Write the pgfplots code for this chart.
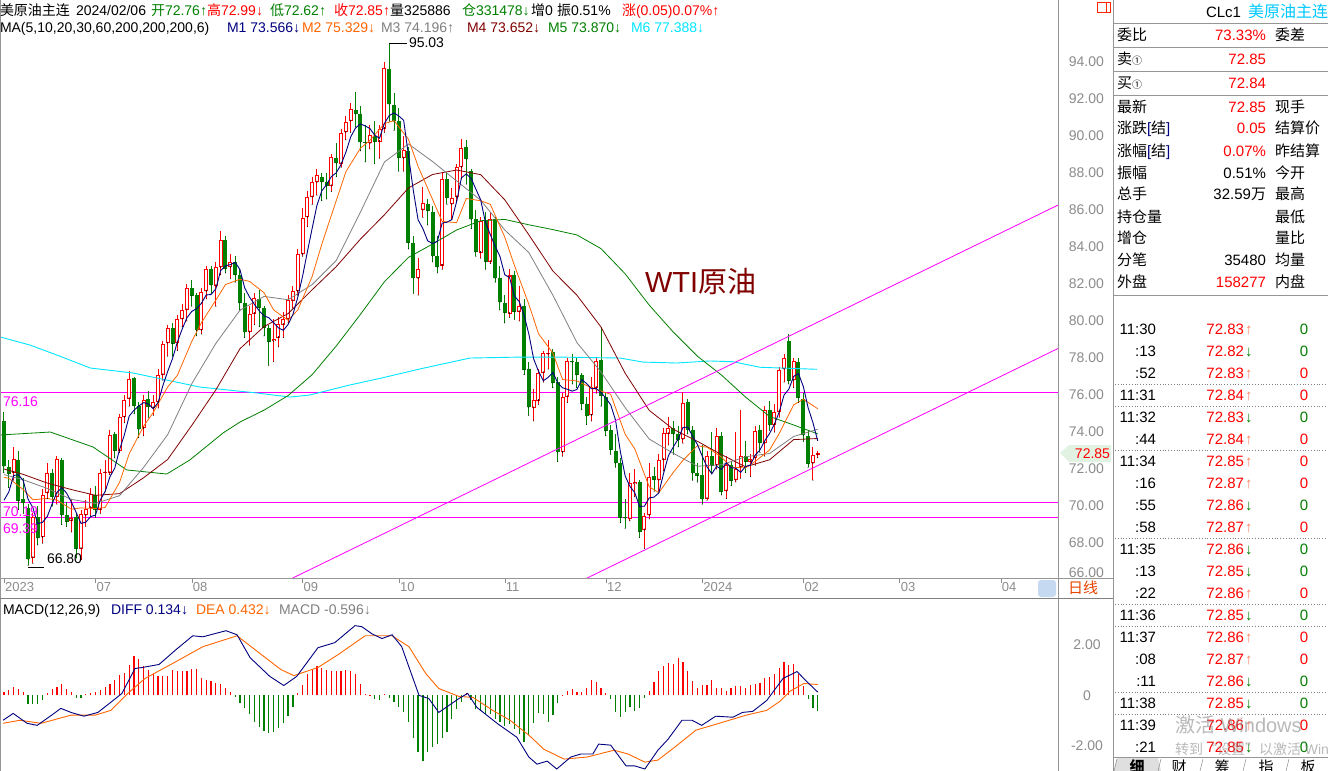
\documentclass[border=0pt]{standalone}
\usepackage{fontspec}
\setmainfont{Liberation Sans}
\newfontfamily\cjk{Noto Sans CJK SC}
\usepackage{pgfplots}
\usepackage{pgfplotstable}
\pgfplotsset{compat=1.18}
\definecolor{upred}{RGB}{255,0,0}
\definecolor{dngreen}{RGB}{0,128,0}
\definecolor{maA}{RGB}{0,0,128}
\definecolor{maB}{RGB}{255,102,0}
\definecolor{maC}{RGB}{128,128,128}
\definecolor{maD}{RGB}{128,0,0}
\definecolor{maE}{RGB}{0,128,0}
\definecolor{maF}{RGB}{0,230,255}
\definecolor{mag}{RGB}{255,0,255}
\definecolor{axgray}{RGB}{140,140,140}
\definecolor{frame}{RGB}{150,150,150}
\definecolor{tagbg}{RGB}{226,242,226}
\definecolor{cyant}{RGB}{0,200,255}
\definecolor{salmon}{RGB}{255,130,100}
\definecolor{rilxian}{RGB}{230,70,0}
\newcommand{\fs}[1]{\fontsize{#1}{#1}\selectfont}
\newcommand{\arU}{\textcolor{salmon}{↑}}
\newcommand{\arD}{\textcolor{dngreen}{↓}}
\tikzset{t/.style={inner sep=0pt, outer sep=0pt}}

\pgfplotstableread{
i o h l c
2 71.80 73.20 71.40 72.53
6 67.20 69.60 66.90 69.42
8 68.30 70.90 68.00 70.62
9 70.70 72.30 70.40 71.78
11 70.50 72.70 70.10 72.53
14 69.20 70.40 68.60 69.37
16 67.70 69.80 67.10 69.56
17 69.50 70.30 68.90 69.86
18 69.90 71.00 69.50 70.64
20 69.80 72.00 69.60 71.79
21 71.80 72.50 70.80 71.80
22 71.80 74.10 71.70 73.86
24 73.00 75.00 72.90 74.83
25 74.80 76.00 74.50 75.75
26 75.80 77.30 75.40 76.89
29 74.20 76.00 73.80 75.75
31 75.30 76.00 74.90 75.63
32 75.60 77.40 75.30 77.07
33 77.10 78.90 76.80 78.74
34 78.80 79.80 78.10 79.63
36 78.80 80.30 78.40 80.09
37 80.10 80.90 79.70 80.58
38 80.60 82.00 80.00 81.80
41 79.50 81.80 79.30 81.55
42 81.60 83.00 81.20 82.82
44 81.90 83.20 80.80 82.92
45 82.90 84.89 82.50 84.40
47 82.90 83.60 82.30 83.19
51 79.40 80.80 78.70 80.39
52 80.40 81.50 79.80 81.25
56 78.90 80.10 77.80 79.05
57 79.10 80.20 78.60 79.83
58 79.80 80.50 79.10 80.10
59 80.10 81.40 79.90 81.16
60 81.10 81.90 80.70 81.63
61 81.60 83.90 81.40 83.63
62 83.60 86.10 83.50 85.55
63 85.60 87.00 85.10 86.69
64 86.70 87.80 86.30 87.54
65 87.50 88.20 86.80 87.87
68 87.30 89.00 87.00 88.84
70 88.50 90.40 88.30 90.16
71 90.20 91.10 89.80 90.77
72 90.80 91.80 90.20 91.48
76 89.60 90.60 89.30 90.03
78 89.70 90.60 88.80 90.39
79 90.40 94.00 90.20 93.68
83 88.80 90.00 88.10 89.23
86 82.30 83.40 81.40 82.79
87 86.00 87.24 85.60 86.38
91 83.00 88.00 82.80 87.69
93 86.30 87.20 85.50 86.66
94 86.70 88.50 86.50 88.32
95 88.30 89.85 87.70 89.37
99 83.70 85.60 83.40 85.39
101 83.20 85.90 83.10 85.54
105 80.40 82.80 80.20 82.46
107 80.50 81.90 80.00 80.82
110 75.30 76.30 74.60 75.74
111 75.70 77.40 75.50 77.17
112 77.20 78.40 76.70 78.26
113 78.20 79.00 77.40 78.26
116 72.90 76.10 72.70 75.89
117 75.90 78.00 75.60 77.83
122 74.90 77.00 74.60 76.41
123 76.40 78.00 76.10 77.86
130 69.30 71.80 69.20 71.23
131 71.20 72.00 70.50 71.32
133 68.70 69.60 67.71 69.47
134 69.50 72.30 69.30 71.58
136 71.40 72.80 70.80 72.47
137 72.50 74.20 71.90 73.94
138 73.90 74.80 73.30 74.22
141 73.60 76.18 73.40 75.57
146 70.40 73.00 70.30 72.70
148 72.20 74.20 72.00 73.81
150 70.80 72.70 70.40 72.24
152 71.40 74.00 71.30 72.02
153 72.10 75.20 71.50 72.68
155 72.40 72.80 71.60 72.56
156 72.60 74.30 72.20 74.08
158 73.40 75.40 72.70 75.19
160 74.40 75.50 74.00 75.09
161 75.10 77.50 74.80 77.36
162 77.40 78.20 76.70 78.01
164 76.80 78.00 76.40 77.82
168 72.30 73.20 71.40 72.78
169 72.76 72.99 72.62 72.85
}\upc

\pgfplotstableread{
i o h l c
0 74.60 75.06 71.80 72.15
1 72.10 72.50 71.00 71.74
3 72.50 73.00 69.80 70.29
4 70.40 71.50 69.60 70.17
5 69.90 70.10 66.80 67.12
7 69.40 70.00 67.90 68.27
10 71.80 72.00 70.00 70.50
12 72.50 72.60 69.00 69.51
13 69.50 70.20 68.90 69.16
15 69.40 69.60 67.20 67.70
19 70.60 71.10 69.40 69.79
23 73.90 74.00 72.60 72.99
27 76.90 77.00 75.00 75.42
28 75.40 75.60 73.70 74.15
30 75.80 76.20 74.80 75.35
35 79.60 79.90 78.10 78.78
39 81.80 82.20 80.80 81.37
40 81.40 81.50 79.20 79.49
43 82.80 83.00 81.50 81.94
46 84.40 84.60 82.60 82.82
48 83.20 83.50 82.10 82.51
49 82.50 82.80 80.60 80.99
50 81.00 81.50 79.10 79.38
53 81.20 81.70 79.70 80.72
54 80.70 80.80 79.20 79.64
55 79.60 79.80 77.60 78.89
66 87.80 88.00 86.50 87.51
67 87.50 88.00 86.60 87.29
69 88.80 89.60 87.80 88.52
73 91.40 92.40 90.50 91.20
74 91.20 91.60 89.20 89.66
75 89.70 90.60 88.60 89.63
77 90.00 90.80 88.50 89.68
80 93.60 95.03 90.80 91.71
81 91.70 92.30 90.30 90.79
82 90.80 91.50 88.10 88.82
84 89.20 89.40 83.90 84.22
85 84.20 84.60 81.50 82.31
88 86.30 86.60 85.20 85.97
89 85.90 86.20 83.20 83.49
90 83.50 84.60 82.60 82.91
92 87.70 88.00 86.30 86.66
96 89.40 89.80 87.40 88.75
97 88.10 88.20 85.00 85.49
98 85.50 86.00 83.50 83.74
100 85.40 85.90 82.80 83.21
102 85.50 85.60 82.10 82.31
103 82.30 83.00 80.60 81.02
104 81.00 81.40 79.90 80.44
106 82.50 82.70 80.10 80.51
108 80.80 81.20 77.10 77.37
109 77.40 77.80 74.90 75.33
114 78.30 78.50 76.40 76.66
115 76.70 77.00 72.40 72.90
118 77.80 78.20 76.60 77.77
119 77.80 78.00 76.40 77.10
120 77.10 77.20 75.20 75.54
121 75.50 75.90 74.40 74.86
124 77.90 79.67 75.40 75.96
125 75.90 76.10 73.80 74.07
126 74.10 74.40 72.80 73.04
127 73.00 73.90 72.10 72.32
128 72.30 72.60 69.10 69.38
129 69.40 70.40 68.80 69.34
132 71.30 71.40 68.30 68.61
135 71.60 72.10 70.80 71.43
139 74.20 74.60 72.80 73.89
140 73.90 74.30 73.20 73.56
142 75.60 75.80 73.90 74.11
143 74.10 74.30 71.40 71.77
144 71.80 72.30 71.30 71.65
145 71.70 73.30 70.10 70.38
147 72.70 74.00 71.80 72.19
149 73.80 74.00 70.60 70.77
151 72.20 72.40 71.10 71.37
154 72.70 73.50 71.80 72.40
157 74.10 74.40 72.90 73.41
159 75.20 75.70 74.10 74.37
163 78.90 79.29 76.60 76.78
165 77.80 78.00 75.60 75.85
166 75.80 76.10 73.50 73.82
167 73.80 74.10 72.10 72.28
}\dnc

\pgfplotstableread{
x y
0 70.31
1 70.76
2 71.65
3 71.69
4 71.38
5 70.37
6 69.91
7 69.05
8 69.12
9 69.44
10 70.12
11 70.74
12 70.99
13 70.70
14 70.21
15 69.65
16 69.06
17 69.13
18 69.43
19 69.51
20 70.33
21 70.78
22 71.58
23 72.05
24 73.05
25 73.85
26 74.86
27 75.18
28 75.41
29 75.59
30 75.51
31 75.26
32 75.59
33 76.51
34 77.28
35 77.97
36 78.86
37 79.56
38 80.18
39 80.52
40 80.67
41 80.96
42 81.41
43 81.43
44 81.74
45 82.73
46 82.98
47 83.05
48 83.17
49 82.78
50 81.78
51 81.29
52 80.90
53 80.55
54 80.28
55 80.18
56 79.91
57 79.63
58 79.50
59 79.81
60 80.35
61 81.27
62 82.41
63 83.73
64 85.01
65 86.26
66 87.03
67 87.38
68 87.81
69 88.01
70 88.46
71 89.12
72 89.95
73 90.43
74 90.65
75 90.55
76 90.40
77 90.04
78 89.88
79 90.68
80 91.10
81 91.25
82 91.08
83 90.85
84 88.95
85 87.07
86 85.47
87 84.99
88 84.33
89 84.19
90 84.31
91 85.29
92 85.34
93 85.48
94 86.45
95 87.74
96 87.95
97 87.72
98 87.13
99 86.55
100 85.32
101 84.67
102 84.04
103 83.49
104 82.50
105 82.35
106 81.35
107 81.05
108 80.32
109 79.30
110 77.95
111 77.29
112 76.77
113 76.95
114 77.22
115 76.65
116 76.39
117 76.31
118 76.21
119 76.30
120 76.83
121 76.62
122 76.34
123 76.35
124 76.13
125 75.83
126 75.47
127 74.65
128 72.95
129 71.63
130 71.06
131 70.72
132 69.98
133 69.99
134 70.44
135 70.48
136 70.71
137 71.78
138 72.73
139 73.19
140 73.62
141 74.24
142 74.27
143 73.78
144 73.33
145 72.70
146 72.12
147 71.74
148 72.15
149 71.97
150 72.34
151 72.08
152 72.04
153 71.82
154 72.14
155 72.21
156 72.75
157 73.03
158 73.53
159 73.92
160 74.43
161 75.08
162 76.00
163 76.32
164 77.01
165 77.16
166 76.46
167 75.31
168 74.51
169 73.52
}\maa

\pgfplotstableread{
x y
0 71.55
1 71.50
4 70.89
6 70.34
9 70.41
11 70.32
14 69.83
16 69.90
19 69.86
21 69.92
24 71.28
26 72.82
29 74.32
31 75.06
34 76.44
36 77.06
39 78.90
41 79.91
44 81.13
46 81.97
49 82.26
51 82.14
54 81.53
56 80.60
59 80.04
61 80.59
64 82.41
66 84.15
69 86.51
71 88.07
74 89.33
76 89.76
79 90.67
81 90.83
84 89.82
86 88.36
89 86.57
91 85.38
94 85.32
96 86.62
99 86.50
101 86.31
104 84.53
106 83.01
109 80.90
111 79.32
114 78.26
116 76.84
119 76.76
121 76.51
124 76.21
126 76.04
129 73.88
131 73.09
134 71.04
136 70.72
139 71.82
141 72.47
144 73.26
146 73.18
149 72.65
151 72.10
154 72.06
156 72.41
159 73.03
161 73.92
164 75.47
166 75.77
169 75.26
}\mab

\pgfplotstableread{
x y
0 71.70
4 71.42
9 70.95
14 70.36
19 70.14
24 70.56
29 72.09
34 73.86
39 76.61
44 78.79
49 80.58
54 81.33
59 81.15
64 81.97
69 83.27
74 85.87
79 88.59
84 89.57
89 88.62
94 87.57
99 86.53
104 84.92
109 83.70
114 81.39
119 78.83
124 77.24
129 75.32
134 73.62
139 72.85
144 72.15
149 72.23
154 72.66
159 72.84
164 73.76
169 74.15
}\mac

\pgfplotstableread{
x y
0 72.00
4 71.71
9 71.24
14 70.89
19 70.58
24 70.67
29 71.53
34 72.52
39 74.36
44 76.28
49 78.50
54 79.70
59 80.40
64 81.69
69 82.94
74 84.42
79 85.74
84 87.19
89 87.92
94 88.16
99 87.91
104 86.55
109 84.66
114 82.70
119 81.39
124 79.67
129 77.18
134 75.17
139 74.15
144 73.50
149 72.78
154 72.12
159 72.50
164 73.59
169 73.65
}\mad

\pgfplotstableread{
x y
-0.8 73.84
9.6 74.00
18.5 73.19
25.5 71.95
33.8 71.73
38.6 72.49
45.5 73.95
49 74.54
54 75.18
59 75.97
64 77.10
69 78.65
74 80.35
79 82.12
84 83.44
89 84.16
94 84.92
99 85.42
104 85.49
109 85.20
114 84.94
119 84.65
124 83.91
129 82.55
134 80.86
139 79.40
144 78.10
149 77.08
154 75.89
159 74.84
164 74.38
169 73.90
}\mae

\pgfplotstableread{
x y
-0.8 79.14
5.4 78.70
11.6 78.10
17.9 77.46
26.8 77.19
40.7 76.43
52.5 76.11
59.4 75.89
63.5 76.00
71.8 76.54
78.1 76.90
86.4 77.41
96.8 78.00
107.1 78.05
115.4 78.05
127.9 78.00
132.7 77.78
139.7 77.73
146.6 77.84
151.4 77.80
157.0 77.50
168.8 77.39
}\maf

\pgfplotstableread{
i h
0 0.13
1 0.20
2 0.33
3 0.27
4 0.13
5 -0.33
6 -0.35
7 -0.35
8 -0.20
9 0.10
10 0.25
11 0.35
12 0.45
13 0.25
14 0.12
15 -0.10
16 -0.10
17 0.05
18 0.10
19 0.15
20 0.20
21 0.35
22 0.45
23 0.60
24 0.80
25 0.90
26 1.20
27 1.55
28 1.45
29 1.15
30 1.00
31 0.85
32 0.75
33 0.75
34 0.75
35 1.00
36 0.95
37 0.95
38 0.95
39 1.05
40 1.05
41 0.67
42 0.60
43 0.55
44 0.50
45 0.45
46 0.30
47 0.15
48 -0.05
49 -0.30
50 -0.50
51 -0.75
52 -1.05
53 -1.25
54 -1.40
55 -1.50
56 -1.45
57 -1.30
58 -1.10
59 -0.80
60 -0.45
61 0.10
62 0.40
63 0.85
64 1.00
65 1.15
66 1.10
67 1.00
68 0.95
69 0.95
70 0.95
71 1.00
72 0.95
73 0.85
74 0.45
75 0.05
76 0.02
77 -0.15
78 -0.20
79 0.05
80 -0.10
81 -0.25
82 -0.45
83 -0.66
84 -1.06
85 -1.66
86 -2.25
87 -2.58
88 -2.25
89 -2.05
90 -1.92
91 -1.66
92 -1.46
93 -0.93
94 -0.53
95 -0.26
96 0.10
97 -0.20
98 -0.53
99 -0.60
100 -0.73
101 -0.73
102 -0.93
103 -1.06
104 -1.19
105 -1.13
106 -1.32
107 -1.52
108 -1.85
109 -1.55
110 -1.09
111 -0.69
112 -0.75
113 -1.06
114 -0.78
115 -0.29
116 0.03
117 0.17
118 0.24
119 0.15
120 0.15
121 0.30
122 0.60
123 0.53
124 0.30
125 0.08
126 -0.16
127 -0.65
128 -0.86
129 -0.65
130 -0.46
131 -0.62
132 -0.49
133 -0.12
134 0.17
135 0.53
136 0.97
137 1.17
138 1.27
139 1.23
140 1.47
141 1.32
142 0.97
143 0.57
144 0.28
145 0.41
146 0.41
147 0.60
148 0.28
149 0.28
150 0.17
151 0.28
152 0.37
153 0.37
154 0.28
155 0.41
156 0.44
157 0.50
158 0.68
159 0.73
160 0.84
161 1.07
162 1.30
163 1.20
164 1.23
165 0.86
166 0.37
167 -0.16
168 -0.49
169 -0.60
}\macdh

\pgfplotstableread{
x y
-0.2 -0.98
1.9 -0.71
4.8 -1.10
6.9 -1.18
10.4 -0.71
11.8 -0.51
13.9 -0.67
16.6 -0.82
19.5 -0.67
22.2 -0.27
24.5 0.08
27.2 1.06
28.7 1.10
32.2 1.22
35.7 1.80
39.2 2.35
41.3 2.31
46.1 2.55
48.4 2.39
51.1 1.49
55.2 0.75
58.1 0.39
60.8 0.75
65.2 1.88
68.7 2.08
72.9 2.75
74.3 2.71
76.4 2.43
78.5 2.24
80.6 2.39
82.6 1.92
86.2 0.00
88.2 -0.12
90.3 -0.67
94.5 -0.12
96.3 0.08
98.2 -0.47
102.4 -1.10
106.5 -1.65
109.0 -2.43
110.7 -2.71
112.8 -2.59
114.8 -2.90
117.7 -2.43
119.8 -2.31
122.3 -2.31
123.5 -1.92
126.0 -1.96
129.2 -2.78
131.0 -2.78
133.1 -2.90
135.8 -2.16
137.9 -1.73
140.8 -0.98
142.9 -0.98
144.9 -1.18
147.8 -0.82
151.4 -0.86
153.4 -0.67
155.5 -0.63
158.4 -0.20
161.8 0.67
164.7 0.94
166.7 0.55
169 0.13
}\diff

\pgfplotstableread{
x y
-0.2 -1.10
3.3 -0.98
7.7 -1.10
13.9 -0.78
18.9 -0.78
22.2 -0.59
25.7 0.08
29.3 0.67
35.7 1.33
41.3 1.92
48.4 2.35
54.0 1.53
57.5 1.02
60.2 0.78
65.2 1.10
69.4 1.61
75.0 2.35
80.6 2.35
84.1 1.92
87.6 0.86
90.3 0.27
94.5 -0.04
97.4 -0.08
101.5 -0.59
105.1 -0.98
109.2 -1.60
112.1 -2.12
116.3 -2.51
121.1 -2.43
126.7 -2.16
129.6 -2.31
133.1 -2.63
135.8 -2.55
139.3 -2.04
143.7 -1.37
148.5 -1.10
154.1 -0.78
158.4 -0.59
161.1 -0.24
163.2 0.16
166.1 0.47
169 0.43
}\dea

\pgfplotsset{
  candle/.style n args={2}{only marks, mark=*, mark size=0.2pt,
    mark options={draw=none, fill=none},
    error bars/y dir=plus, error bars/y explicit, error bars/error mark=none,
    error bars/error bar style={line width=#1, draw=#2, line cap=butt}},
}

\begin{document}
\begin{tikzpicture}
\fill[white] (0pt,0pt) rectangle (1328pt,-771pt);

% ---------------- price panel
\begin{axis}[
  at={(0pt,-578pt)}, anchor=south west, scale only axis,
  width=1058pt, height=578pt,
  xmin=-0.83, xmax=218.9, ymin=66.11, ymax=97.35,
  axis line style={draw=none},
  ytick={68,70,...,94}, extra y ticks={66.4}, extra y tick labels={66.00},
  ytick pos=right, yticklabel pos=right, ytick style={draw=none},
  yticklabel style={anchor=east, xshift=46pt, inner sep=0pt, text=axgray, font=\fs{14},
     /pgf/number format/fixed, /pgf/number format/fixed zerofill,
     /pgf/number format/precision=2, /pgf/number format/assume math mode=true},
  scaled y ticks=false,
  xtick={0,19,39,62,82,104,125,145,166,186,207},
  xticklabels={2023,07,08,09,10,11,12,2024,02,03,04},
  xtick pos=left, xtick align=outside, ytick align=inside, major tick length=5pt,
  xtick style={draw=axgray, thin},
  xticklabel style={anchor=north west, inner sep=0pt, xshift=1pt, yshift=1pt, text=axgray, font=\fs{13}},
]
\addplot[mag, line width=0.8pt] coordinates {(-5,76.16) (230,76.16)};
\addplot[mag, line width=1.1pt] coordinates {(-5,70.19) (230,70.19)};
\addplot[mag, line width=1.1pt] coordinates {(-5,69.39) (230,69.39)};

% wicks
\addplot[candle={1pt}{upred}] table[x=i, y=l, y error expr=\thisrow{h}-\thisrow{l}] {\upc};
\addplot[candle={1pt}{dngreen}] table[x=i, y=l, y error expr=\thisrow{h}-\thisrow{l}] {\dnc};
% bodies
\addplot[candle={4pt}{upred}] table[x=i, y=o, y error expr={max(\thisrow{c}-\thisrow{o},0.06)}] {\upc};
\addplot[candle={2pt}{white}] table[x=i, y expr=\thisrow{o}+0.055, y error expr={max(\thisrow{c}-\thisrow{o}-0.11,0)}] {\upc};
\addplot[candle={4pt}{dngreen}] table[x=i, y=c, y error expr={max(\thisrow{o}-\thisrow{c},0.06)}] {\dnc};

% moving averages
\addplot[maF, line width=0.9pt] table {\maf};
\addplot[maE, line width=0.8pt] table {\mae};
\addplot[maD, line width=0.8pt] table {\mad};
\addplot[maC, line width=0.8pt] table {\mac};
\addplot[maB, line width=0.8pt] table {\mab};
\addplot[maA, line width=0.9pt] table {\maa};

% channel lines
\addplot[mag, line width=0.8pt] coordinates {(55,65.48) (225,87.04)};
\addplot[mag, line width=0.8pt] coordinates {(116,65.46) (225,79.29)};
\end{axis}

% ---------------- MACD panel
\begin{axis}[
  at={(0pt,-771pt)}, anchor=south west, scale only axis,
  width=1058pt, height=172pt,
  xmin=-0.83, xmax=218.9, ymin=-2.98, ymax=3.80,
  axis line style={draw=none},
  xtick=\empty,
  ytick={-2,0,2}, yticklabels={-2.00,0,2.00},
  ytick pos=right, yticklabel pos=right, ytick style={draw=none},
  yticklabel style={anchor=center, xshift=29pt, inner sep=0pt, text=axgray, font=\fs{14}},
]
\addplot[ycomb, upred, line width=1.2pt, restrict y to domain=0:10] table[x=i, y=h] {\macdh};
\addplot[ycomb, dngreen, line width=1.2pt, restrict y to domain=-10:0] table[x=i, y=h] {\macdh};
\addplot[maB, line width=0.9pt] table {\dea};
\addplot[maA, line width=0.9pt] table {\diff};
\end{axis}

\begin{scope}[x=1pt,y=1pt]
% ---------------- frames
\draw[frame, line width=1pt] (0.5,0) -- (0.5,-771);
\draw[frame, line width=0.8pt] (1058,0) -- (1058,-771);
\draw[frame, line width=0.8pt] (0,-578.5) -- (1113,-578.5);
\draw[gray, line width=1.5pt] (0,-598.5) -- (1113,-598.5);
\draw[frame, line width=1pt] (1113,0) -- (1113,-771);
\fill[rounded corners=3pt, fill={rgb,255:red,197;green,218;blue,240}] (1038,-580) rectangle (1056,-597);
\node[t, anchor=base west, text=rilxian, font=\fs{15}] at (1068,-593) {\cjk 日线};

% annotations in price panel
\draw[black, line width=0.8pt] (389,-43) -- (407,-43);
\node[t, anchor=west, font=\fs{14}] at (409,-43) {95.03};
\draw[black, line width=0.8pt] (28,-567) -- (44,-567);
\node[t, anchor=base west, font=\fs{14}] at (47,-563) {66.80};
\node[t, anchor=base west, text=mag, font=\fs{14}] at (3,-406) {76.16};
\node[t, anchor=base west, text=mag, font=\fs{14}] at (3,-516) {70.19};
\node[t, anchor=base west, text=mag, font=\fs{14}] at (3,-533) {69.39};
\node[t, anchor=base west, text=maD, font=\fs{29}] at (645,-292) {WTI{\cjk 原油}};

% current price tag
\fill[tagbg] (1060,-453) -- (1069,-445) -- (1111,-445) -- (1111,-462) -- (1069,-462) -- cycle;
\node[t, anchor=base east, text=upred, font=\fs{14}] at (1110,-458) {72.85};

% ---------------- header rows
\begin{scope}[every node/.style={t, anchor=base west, font=\fs{14}}]
\node at (0,-15.5) {\cjk 美原油主连};
\node at (76,-15.5) {2024/02/06};
\node[text=dngreen] at (151,-15.5) {{\cjk 开}72.76↑};
\node[text=upred] at (207,-15.5) {{\cjk 高}72.99↓};
\node[text=dngreen] at (270,-15.5) {{\cjk 低}72.62↑};
\node[text=upred] at (334,-15.5) {{\cjk 收}72.85↑};
\node at (390,-15.5) {{\cjk 量}325886};
\node[text=dngreen] at (462,-15.5) {{\cjk 仓}331478↓};
\node at (531,-15.5) {{\cjk 增}0};
\node at (557,-15.5) {{\cjk 振}0.51\%};
\node[text=upred] at (622,-15.5) {{\cjk 涨}(0.05)0.07\%↑};
\node at (0,-32.5) {MA(5,10,20,30,60,200,200,200,6)};
\node[text=maA] at (227,-32.5) {M1 73.566↓};
\node[text=maB] at (302,-32.5) {M2 75.329↓};
\node[text=maC] at (381,-32.5) {M3 74.196↑};
\node[text=maD] at (467,-32.5) {M4 73.652↓};
\node[text=maE] at (548,-32.5) {M5 73.870↓};
\node[text=maF] at (631,-32.5) {M6 77.388↓};
\node at (3,-614) {MACD(12,26,9)};
\node[text=maA] at (111,-614) {DIFF 0.134↓};
\node[text=maB] at (196,-614) {DEA 0.432↓};
\node[text=maC] at (279,-614) {MACD -0.596↓};
\end{scope}

% ---------------- right panel
\draw[red!70!orange, line width=0.9pt] (1097,-2) rectangle (1110,-12);
\draw[red!70!orange, line width=0.9pt] (1106,-2) -- (1106,-12);
\begin{scope}[every node/.style={t, font=\fs{15}}]
\node[anchor=base west] at (1206,-17.5) {CLc1};
\node[anchor=base west, text=cyant, font=\fs{16}] at (1248,-17.5) {\cjk 美原油主连};
\foreach \yy in {23.5,47.5,71.5,95.5,295.5} {\draw[frame, line width=1pt] (1113,-\yy) -- (1328,-\yy);}
\node[anchor=base west] at (1117,-40.5) {\cjk 委比};
\node[anchor=base east, text=upred] at (1266,-40.5) {73.33\%};
\node[anchor=base west] at (1275,-40.5) {\cjk 委差};
\node[anchor=base west] at (1117,-64.5) {{\cjk 卖}{\cjk\fs{10}①}};
\node[anchor=base east, text=upred] at (1266,-64.5) {72.85};
\node[anchor=base west] at (1117,-88) {{\cjk 买}{\cjk\fs{10}①}};
\node[anchor=base east, text=upred] at (1266,-88) {72.84};
\node[anchor=base west] at (1117,-112.5) {\cjk 最新};
\node[anchor=base east, text=upred] at (1266,-112.5) {72.85};
\node[anchor=base west] at (1275,-112.5) {\cjk 现手};
\node[anchor=base west] at (1117,-133.5) {{\cjk 涨跌}\textcolor{maA}{[}{\cjk 结}\textcolor{maA}{]}};
\node[anchor=base east, text=upred] at (1266,-133.5) {0.05};
\node[anchor=base west] at (1275,-133.5) {\cjk 结算价};
\node[anchor=base west] at (1117,-156.5) {{\cjk 涨幅}\textcolor{maA}{[}{\cjk 结}\textcolor{maA}{]}};
\node[anchor=base east, text=upred] at (1266,-156.5) {0.07\%};
\node[anchor=base west] at (1275,-156.5) {\cjk 昨结算};
\node[anchor=base west] at (1117,-178.5) {\cjk 振幅};
\node[anchor=base east] at (1266,-178.5) {0.51\%};
\node[anchor=base west] at (1275,-178.5) {\cjk 今开};
\node[anchor=base west] at (1117,-199.5) {\cjk 总手};
\node[anchor=base east] at (1266,-199.5) {32.59{\cjk 万}};
\node[anchor=base west] at (1275,-199.5) {\cjk 最高};
\node[anchor=base west] at (1117,-222.5) {\cjk 持仓量};
\node[anchor=base west] at (1275,-222.5) {\cjk 最低};
\node[anchor=base west] at (1117,-243.5) {\cjk 增仓};
\node[anchor=base west] at (1275,-243.5) {\cjk 量比};
\node[anchor=base west] at (1117,-265.5) {\cjk 分笔};
\node[anchor=base east] at (1266,-265.5) {35480};
\node[anchor=base west] at (1275,-265.5) {\cjk 均量};
\node[anchor=base west] at (1117,-287.5) {\cjk 外盘};
\node[anchor=base east, text=upred] at (1266,-287.5) {158277};
\node[anchor=base west] at (1275,-287.5) {\cjk 内盘};

\foreach \yy in {384,406,450,538,604,626,692,714} {\draw[gray, dotted, line width=0.8pt] (1115,-\yy) -- (1328,-\yy);}
\foreach \yy/\tm/\pr/\ar/\vc in {
 329/11:30/72.83/\arU/dngreen, 351/:13/72.82/\arD/dngreen, 373/:52/72.83/\arU/upred,
 395/11:31/72.84/\arU/upred, 417/11:32/72.83/\arD/dngreen, 439/:44/72.84/\arU/upred,
 461/11:34/72.85/\arU/upred, 483/:16/72.87/\arU/upred, 505/:55/72.86/\arD/dngreen,
 527/:58/72.87/\arU/upred, 549/11:35/72.86/\arD/dngreen, 571/:13/72.85/\arD/dngreen,
 593/:22/72.86/\arU/upred, 615/11:36/72.85/\arD/dngreen, 637/11:37/72.86/\arU/upred,
 659/:08/72.87/\arU/upred, 681/:11/72.86/\arD/dngreen, 703/11:38/72.85/\arD/dngreen,
 725/11:39/72.86/\arU/upred, 747/:21/72.85/\arD/dngreen} {
  \node[anchor=base east] at (1156,{-(\yy+5.5)}) {\tm};
  \node[anchor=base east, text=upred] at (1244,{-(\yy+5.5)}) {\pr};
  \node[anchor=base west] at (1245,{-(\yy+5.5)}) {\ar};
  \node[anchor=base, text=\vc] at (1304,{-(\yy+5.5)}) {0};
}
\end{scope}

% watermark
\node[t, anchor=base west, text=gray, opacity=0.55, font=\fs{20}] at (1175,-732) {{\cjk 激活} Windows};
\node[t, anchor=base west, text=gray, opacity=0.55, font=\fs{14}] at (1175,-754) {{\cjk 转到“设置”以激活} Windows};

% tab bar
\draw[frame, line width=1pt] (1113,-757.5) -- (1328,-757.5);
\fill[gray!25] (1117,-758) -- (1158,-758) -- (1161,-771) -- (1114,-771) -- cycle;
\foreach \xx in {1114,1158,1200,1243,1286} {\draw[gray] (\xx,-771) -- (\xx+3,-759);}
\begin{scope}[every node/.style={t, anchor=base, font=\fs{15}}]
\node at (1137,-772) {\cjk\bfseries 细};
\node at (1179,-772) {\cjk 财};
\node at (1222,-772) {\cjk 筹};
\node at (1266,-772) {\cjk 指};
\node at (1308,-772) {\cjk 板};
\end{scope}
\end{scope}

\pgfresetboundingbox
\path[use as bounding box] (0pt,0pt) rectangle (1328pt,-771pt);
\end{tikzpicture}
\end{document}
